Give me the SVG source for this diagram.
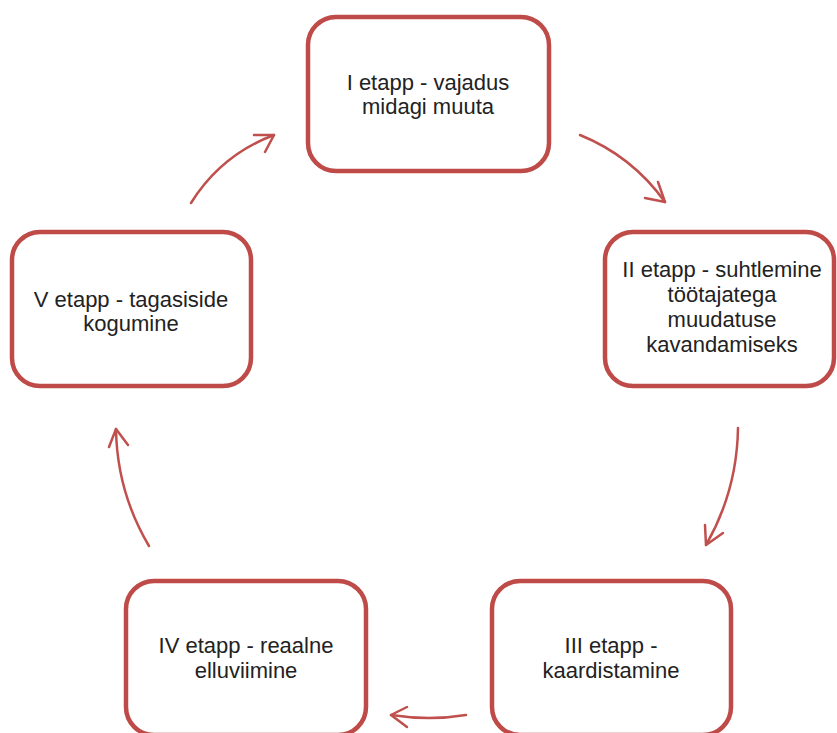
<svg xmlns="http://www.w3.org/2000/svg" width="837" height="733" viewBox="0 0 837 733">
<style>
.box{fill:#fff;stroke:#BE4B48;stroke-width:4.5}
.t{font-family:"Liberation Sans",Arial,sans-serif;font-size:22px;fill:#222;text-anchor:middle}
.c{fill:none;stroke:#C0504D;stroke-width:2.5;stroke-linecap:round;stroke-linejoin:round}
</style>
<rect width="837" height="733" fill="#fff"/>
<g id="connectors">
<path class="c" d="M580,135 Q632,156 665,202"/>
<polyline class="c" points="645,198 665,202 658,182"/>
<path class="c" d="M738,428 Q737,491 706,545"/>
<polyline class="c" points="705,525 706,545 723,533"/>
<path class="c" d="M466,715 Q430,721 391,715"/>
<polyline class="c" points="407,707 391,715 407,727"/>
<path class="c" d="M149,546 Q117,492 116,429"/>
<polyline class="c" points="109,447 116,429 128,445"/>
<path class="c" d="M191,203 Q221,155 274,135"/>
<polyline class="c" points="254,135 274,135 265,152"/>
</g>
<g id="node1">
<rect class="box" x="308" y="17" width="241" height="154" rx="28"/>
<text class="t" x="428" y="90">I etapp - vajadus</text>
<text class="t" x="428" y="114">midagi muuta</text>
</g>
<g id="node2">
<rect class="box" x="605" y="232" width="229" height="154" rx="28"/>
<text class="t" x="722" y="277">II etapp - suhtlemine</text>
<text class="t" x="722" y="302">töötajatega</text>
<text class="t" x="722" y="327">muudatuse</text>
<text class="t" x="722" y="352">kavandamiseks</text>
</g>
<g id="node3">
<rect class="box" x="492" y="581" width="239" height="154" rx="28"/>
<text class="t" x="611" y="653">III etapp -</text>
<text class="t" x="611" y="678">kaardistamine</text>
</g>
<g id="node4">
<rect class="box" x="126" y="581" width="240" height="154" rx="28"/>
<text class="t" x="246" y="653">IV etapp - reaalne</text>
<text class="t" x="246" y="678">elluviimine</text>
</g>
<g id="node5">
<rect class="box" x="12" y="232" width="239" height="154" rx="28"/>
<text class="t" x="131" y="307">V etapp - tagasiside</text>
<text class="t" x="131" y="331">kogumine</text>
</g>
</svg>
